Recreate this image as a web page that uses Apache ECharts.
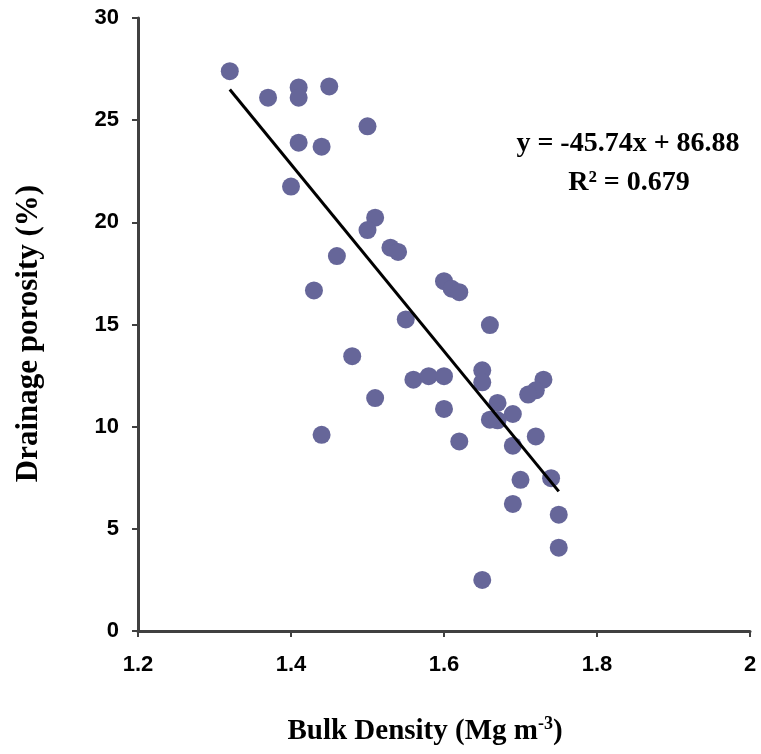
<!DOCTYPE html>
<html>
<head>
<meta charset="utf-8">
<script src="https://cdn.jsdelivr.net/npm/echarts@6/dist/echarts.min.js"></script>
<style>
html,body{margin:0;padding:0;background:#fff;}
#chart{width:761px;height:754px;}
</style>
</head>
<body>
<div id="chart"></div>
<script>
// Bulk density (Mg m-3)
const bulkDensity = [1.32,1.37,1.41,1.41,1.45,1.50,1.41,1.44,1.40,1.51,1.50,1.53,1.54,1.46,1.43,1.60,1.61,1.62,1.55,1.66,1.48,1.65,1.65,1.56,1.58,1.60,1.73,1.72,1.71,1.51,1.60,1.67,1.69,1.66,1.67,1.44,1.62,1.72,1.69,1.70,1.74,1.69,1.75,1.75,1.65];
// Drainage porosity (%)
const drainagePorosity = [27.4,26.1,26.6,26.1,26.65,24.7,23.9,23.7,21.75,20.23,19.62,18.76,18.55,18.35,16.67,17.12,16.75,16.58,15.25,14.97,13.45,12.76,12.17,12.3,12.47,12.47,12.3,11.78,11.57,11.4,10.87,11.16,10.62,10.34,10.31,9.6,9.28,9.52,9.07,7.4,7.48,6.22,5.69,4.08,2.5];
// Linear trend y = slope*x + intercept
const trendCoef = [-45.74, 86.88];
const trendRange = [1.32, 1.75];
const xTicks = [1.2, 1.4, 1.6, 1.8, 2];
const yTicks = [0, 5, 10, 15, 20, 25, 30];

const points = bulkDensity.map((x, i) => [x, drainagePorosity[i]]);
const trendLine = trendRange.map(x => [x, trendCoef[0] * x + trendCoef[1]]);

const chart = echarts.init(document.getElementById('chart'));
const axisColor = '#404040';
const serif = 'Liberation Serif, Times New Roman, serif';
const tickFont = {fontFamily: 'Liberation Sans, Arial, sans-serif', fontWeight: 'bold', fontSize: 22, color: '#000'};
chart.setOption({
  animation: false,
  grid: {left: 138, right: 11, top: 18, bottom: 123, containLabel: false},
  xAxis: {
    type: 'value', min: xTicks[0], max: xTicks[xTicks.length - 1], interval: 0.2,
    axisLine: {show: true, lineStyle: {color: axisColor, width: 3}},
    axisTick: {show: true, length: 6, lineStyle: {color: axisColor, width: 2}},
    splitLine: {show: false},
    axisLabel: Object.assign({margin: 23, formatter: v => String(+v.toFixed(1))}, tickFont),
    name: 'Bulk Density (Mg m{sup|-3})',
    nameLocation: 'middle', nameGap: 84,
    nameTextStyle: {
      fontFamily: serif, fontWeight: 'bold', fontSize: 29, color: '#000',
      padding: [0, 38, 0, 0],
      rich: {sup: {fontFamily: serif, fontWeight: 'bold', fontSize: 18, color: '#000', verticalAlign: 'top', padding: [0, 0, 16, 0]}}
    }
  },
  yAxis: {
    type: 'value', min: 0, max: 30, interval: 5,
    axisLine: {show: true, lineStyle: {color: axisColor, width: 3}},
    axisTick: {show: true, length: 6, lineStyle: {color: axisColor, width: 2}},
    splitLine: {show: false},
    axisLabel: Object.assign({margin: 19}, tickFont),
    name: 'Drainage porosity (%)',
    nameLocation: 'middle', nameGap: 94, nameRotate: 90,
    nameTextStyle: {fontFamily: serif, fontWeight: 'bold', fontSize: 31, color: '#000', padding: [0, 18, 0, 0]}
  },
  series: [
    {
      type: 'scatter', data: points, symbol: 'circle', symbolSize: 18,
      itemStyle: {color: '#666699', opacity: 1}, z: 2
    },
    {
      type: 'line', data: trendLine, symbol: 'none',
      lineStyle: {color: '#000', width: 3}, z: 3
    }
  ],
  graphic: [
    {type: 'text', x: 628, y: 144, style: {text: 'y = -45.74x + 86.88', font: 'bold 28px "Liberation Serif", "Times New Roman", serif', fill: '#000', align: 'center', verticalAlign: 'middle'}},
    {type: 'text', x: 629, y: 183, style: {text: 'R² = 0.679', font: 'bold 28px "Liberation Serif", "Times New Roman", serif', fill: '#000', align: 'center', verticalAlign: 'middle'}}
  ]
});
</script>
</body>
</html>
